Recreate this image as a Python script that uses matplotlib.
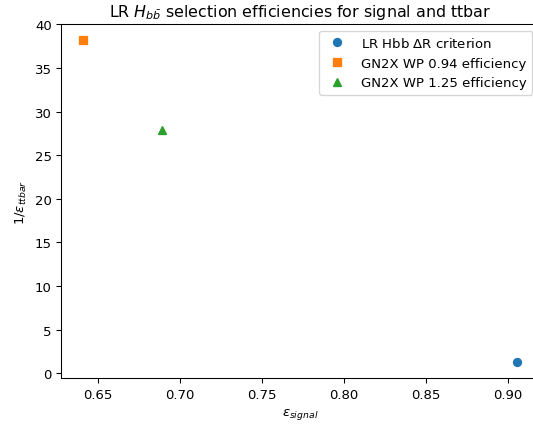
import matplotlib
matplotlib.use("Agg")
import matplotlib.pyplot as plt

# efficiencies
labels = ["LR Hbb $\\Delta$R criterion", "GN2X WP 0.94 efficiency", "GN2X WP 1.25 efficiency"]
eff_signal = [0.9057, 0.6410, 0.689]
inv_eff_ttbar = [1.25, 38.2, 27.9]
markers = ["o", "s", "^"]

dpi = 95.5
fig = plt.figure(figsize=(533 / dpi, 425 / dpi), dpi=dpi)
ax = fig.add_axes([61 / 533, 45.7 / 425, 478 / 533, 354.3 / 425])

for x, y, m, lab in zip(eff_signal, inv_eff_ttbar, markers, labels):
    ax.plot([x], [y], m, label=lab)

ax.set_xlabel(r"$\epsilon_{signal}$")
ax.set_ylabel(r"$1/\epsilon_{ttbar}$")
ax.set_title(r"LR $H_{b\bar{b}}$ selection efficiencies for signal and ttbar")
ax.legend(loc="upper right")

fig.savefig("out.png", dpi=dpi)
